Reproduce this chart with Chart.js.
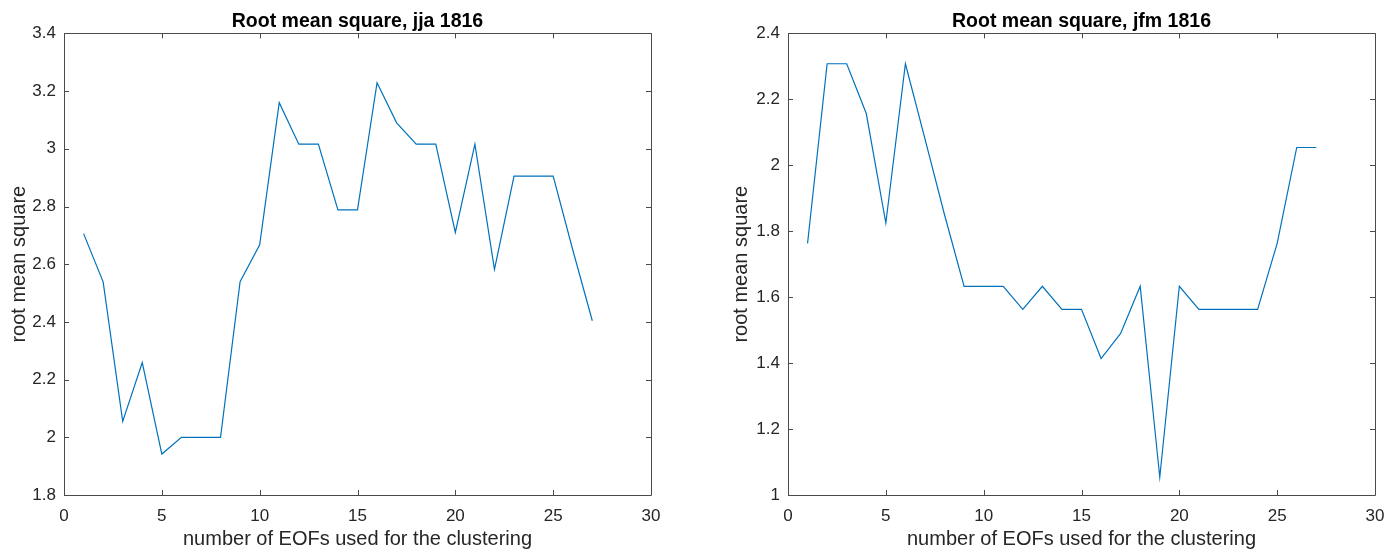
<!DOCTYPE html>
<html lang="en">
<head>
<meta charset="UTF-8">
<title>Root mean square</title>
<script src="https://cdn.jsdelivr.net/npm/chart.js"></script>
<style>
  html, body { margin: 0; padding: 0; background: #fff; }
  .wrap { position: absolute; top: 0; width: 700px; height: 552px; }
</style>
</head>
<body>
<div class="wrap" style="left:0"><canvas id="jja"></canvas></div>
<div class="wrap" style="left:700px"><canvas id="jfm"></canvas></div>
<script>
// number of EOFs used (x) and the rms for each season
const nEofs = [1, 2, 3, 4, 5, 6, 7, 8, 9, 10, 11, 12, 13, 14, 15, 16, 17, 18, 19, 20, 21, 22, 23, 24, 25, 26, 27];
const rmsJja = [2.706, 2.539, 2.055, 2.259, 1.942, 2.0, 2.0, 2.0, 2.539, 2.667, 3.16, 3.016, 3.016, 2.788, 2.788,
                3.229, 3.09, 3.016, 3.016, 2.71, 3.016, 2.582, 2.905, 2.905, 2.905, 2.65, 2.404];
const rmsJfm = [1.763, 2.308, 2.308, 2.157, 1.825, 2.308, 2.08, 1.85, 1.633, 1.633, 1.633, 1.563, 1.633, 1.563, 1.563,
                1.414, 1.49, 1.633, 1.054, 1.633, 1.563, 1.563, 1.563, 1.563, 1.763, 2.054, 2.054];

const xTicks = [0, 5, 10, 15, 20, 25, 30];
const yTicksJja = [1.8, 2, 2.2, 2.4, 2.6, 2.8, 3, 3.2, 3.4];
const yTicksJfm = [1, 1.2, 1.4, 1.6, 1.8, 2, 2.2, 2.4];

const AXIS = '#262626';
const BOX = '#4a4a4a';
const LINE = '#0072BD';
const FONT = '"Liberation Sans", Arial, sans-serif';

// matlab-like box with inward tick marks on all four sides
const boxTicks = {
  id: 'boxTicks',
  afterDraw(chart) {
    const { ctx, chartArea: a, scales } = chart;
    const len = 5;
    ctx.save();
    ctx.strokeStyle = BOX;
    ctx.lineWidth = 1;
    ctx.beginPath();
    ctx.rect(Math.round(a.left) + 0.5, Math.round(a.top) + 0.5,
             Math.round(a.right - a.left), Math.round(a.bottom - a.top));
    scales.x.ticks.forEach(t => {
      const px = Math.round(scales.x.getPixelForValue(t.value)) + 0.5;
      ctx.moveTo(px, a.bottom); ctx.lineTo(px, a.bottom - len);
      ctx.moveTo(px, a.top); ctx.lineTo(px, a.top + len);
    });
    scales.y.ticks.forEach(t => {
      const py = Math.round(scales.y.getPixelForValue(t.value)) + 0.5;
      ctx.moveTo(a.left, py); ctx.lineTo(a.left + len, py);
      ctx.moveTo(a.right, py); ctx.lineTo(a.right - len, py);
    });
    ctx.stroke();
    ctx.restore();
  }
};

function makeChart(id, title, values, yTicks, padLeft, yWidth, padRight) {
  return new Chart(document.getElementById(id), {
    type: 'line',
    data: {
      labels: nEofs,
      datasets: [{
        data: nEofs.map((x, i) => ({ x: x, y: values[i] })),
        borderColor: LINE,
        borderWidth: 1.2,
        pointRadius: 0,
        tension: 0,
        fill: false
      }]
    },
    options: {
      responsive: false,
      animation: false,
      devicePixelRatio: 1,
      layout: { padding: { left: padLeft, right: padRight, top: 0, bottom: 0 } },
      plugins: {
        legend: { display: false },
        tooltip: { enabled: false },
        title: {
          display: true,
          text: title,
          fullSize: false,
          color: '#000',
          font: { family: FONT, size: 19.5, weight: 'bold' },
          padding: { top: 10, bottom: 0 }
        }
      },
      scales: {
        x: {
          type: 'linear',
          min: 0, max: 30,
          afterBuildTicks: s => { s.ticks = xTicks.map(v => ({ value: v })); },
          afterFit: s => { s.height = 57; },
          grid: { display: false, drawTicks: false },
          border: { display: false },
          ticks: { color: AXIS, padding: 11, maxRotation: 0, font: { family: FONT, size: 17 } },
          title: {
            display: true,
            text: 'number of EOFs used for the clustering',
            color: AXIS,
            font: { family: FONT, size: 20 },
            padding: { top: 0, bottom: 1 }
          }
        },
        y: {
          min: yTicks[0], max: yTicks[yTicks.length - 1],
          afterBuildTicks: s => { s.ticks = yTicks.map(v => ({ value: v })); },
          afterFit: s => { s.width = yWidth; },
          grid: { display: false, drawTicks: false },
          border: { display: false },
          ticks: {
            color: AXIS, padding: 8,
            font: { family: FONT, size: 17 },
            callback: v => String(+v.toFixed(2))
          },
          title: {
            display: true,
            text: 'root mean square',
            color: AXIS,
            font: { family: FONT, size: 20 },
            padding: { top: 4, bottom: 0 }
          }
        }
      }
    },
    plugins: [boxTicks]
  });
}

['jja', 'jfm'].forEach(id => {
  const c = document.getElementById(id);
  c.width = 700;
  c.height = 552;
});

makeChart('jja', 'Root mean square, jja 1816', rmsJja, yTicksJja, 3, 61, 49);
makeChart('jfm', 'Root mean square, jfm 1816', rmsJfm, yTicksJfm, 25, 63, 25);
</script>
</body>
</html>
